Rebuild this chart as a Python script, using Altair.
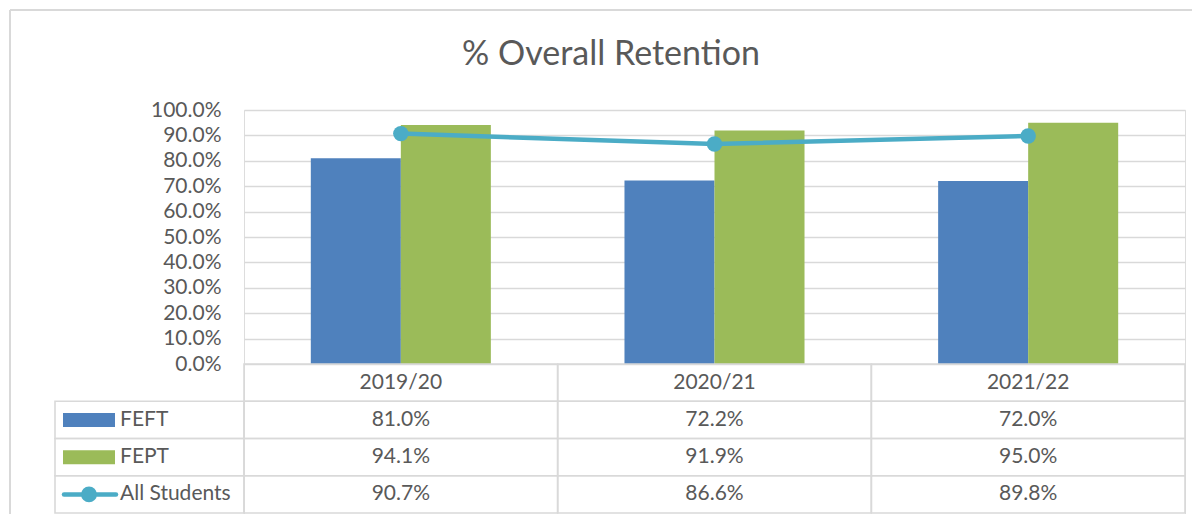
import altair as alt
import pandas as pd

# ---- data ----
years = ["2019/20", "2020/21", "2021/22"]
fe_ft = [81.0, 72.2, 72.0]
fe_pt = [94.1, 91.9, 95.0]
all_students = [90.7, 86.6, 89.8]
series_names = ["FEFT", "FEPT", "All Students"]
series_colors = ["#4F81BD", "#9BBB59", "#4BACC6"]
y_ticks = [0, 10, 20, 30, 40, 50, 60, 70, 80, 90, 100]
table_rows = ["header", "FEFT", "FEPT", "All Students"]
title_text = "% Overall Retention"

TEXT = "#595959"
GRID = "#D9D9D9"
FONT = "Lato"

# ---- tables built from the arrays ----
bars_df = pd.DataFrame(
    [{"year": y, "series": s, "value": v / 100}
     for s, vals in (("FEFT", fe_ft), ("FEPT", fe_pt))
     for y, v in zip(years, vals)]
)
line_df = pd.DataFrame({"year": years, "series": "All Students",
                        "value": [v / 100 for v in all_students]})

cells = []
for y in years:
    cells.append({"row": "header", "year": y, "label": y})
for s, vals in (("FEFT", fe_ft), ("FEPT", fe_pt), ("All Students", all_students)):
    for y, v in zip(years, vals):
        cells.append({"row": s, "year": y, "label": f"{v:.1f}%"})
cells_df = pd.DataFrame(cells)
keys_df = pd.DataFrame({"row": series_names, "series": series_names})
title_df = pd.DataFrame({"title": [title_text]})

color_scale = alt.Scale(domain=series_names, range=series_colors)

# ---- chart part: bars + line ----
x_bar = alt.X("year:N", sort=years,
              scale=alt.Scale(domain=years, paddingInner=0.426, paddingOuter=0.213),
              axis=None)
y_val = alt.Y(
    "value:Q",
    scale=alt.Scale(domain=[0, 1], range=[254, 0], nice=False),
    axis=alt.Axis(values=[t / 100 for t in y_ticks], format=".1%", title=None,
                  domain=False, ticks=False, labelPadding=23,
                  labelFont=FONT, labelFontSize=21, labelColor=TEXT,
                  grid=True, gridColor=GRID, gridWidth=1.5),
)

bars = alt.Chart(bars_df).mark_bar().encode(
    x=x_bar,
    xOffset=alt.XOffset("series:N", sort=["FEFT", "FEPT"],
                        scale=alt.Scale(domain=["FEFT", "FEPT"])),
    y=y_val,
    color=alt.Color("series:N", scale=color_scale, legend=None),
)

line = alt.Chart(line_df).mark_line(
    color=series_colors[2], strokeWidth=4.5,
    point=alt.OverlayMarkDef(filled=True, size=240, color=series_colors[2], opacity=1),
).encode(x=x_bar, y=alt.Y("value:Q"))

plot = alt.layer(bars, line)

# ---- data table below ----
x_tab = alt.X("year:N", sort=years,
              scale=alt.Scale(domain=years, paddingInner=0, paddingOuter=0),
              axis=None)
y_tab = alt.Y("row:N", sort=table_rows,
              scale=alt.Scale(domain=table_rows, range=[254, 403],
                              paddingInner=0, paddingOuter=0),
              axis=None)

cell_rects = alt.Chart(cells_df).mark_rect(
    fillOpacity=0, stroke=GRID, strokeWidth=1.6
).encode(x=x_tab, y=y_tab)

key_rects = alt.Chart(keys_df).mark_rect(
    fillOpacity=0, stroke=GRID, strokeWidth=1.6
).encode(x=alt.value(-189), x2=alt.value(0), y=y_tab)

cell_text = alt.Chart(cells_df).mark_text(
    font=FONT, fontSize=21, color=TEXT, baseline="middle", align="center"
).encode(x=x_tab, y=y_tab, text="label:N")

key_labels = alt.Chart(keys_df).mark_text(
    font=FONT, fontSize=21, color=TEXT, baseline="middle", align="left"
).encode(x=alt.value(-124), y=y_tab, text="row:N")

key_bars = alt.Chart(keys_df).transform_filter(
    alt.FieldOneOfPredicate(field="series", oneOf=["FEFT", "FEPT"])
).mark_rule(strokeWidth=14, strokeCap="butt").encode(
    x=alt.value(-181), x2=alt.value(-129), y=y_tab,
    color=alt.Color("series:N", scale=color_scale, legend=None),
)

key_line = alt.Chart(keys_df).transform_filter(
    alt.FieldEqualPredicate(field="series", equal="All Students")
).mark_rule(strokeWidth=4.5, strokeCap="round").encode(
    x=alt.value(-180), x2=alt.value(-128), y=y_tab,
    color=alt.Color("series:N", scale=color_scale, legend=None),
)

key_dot = alt.Chart(keys_df).transform_filter(
    alt.FieldEqualPredicate(field="series", equal="All Students")
).mark_point(filled=True, size=250, opacity=1, shape="circle").encode(
    x=alt.value(-155), y=y_tab,
    color=alt.Color("series:N", scale=color_scale, legend=None),
)

table = alt.layer(cell_rects, key_rects, cell_text, key_labels,
                  key_bars, key_line, key_dot)

# ---- chart title (placed over the whole frame, as in the reference) ----
title = alt.Chart(title_df).mark_text(
    font=FONT, fontSize=34, color=TEXT, align="center", baseline="alphabetic"
).encode(x=alt.value(367), y=alt.value(-45), text="title:N")

# ---- light frame (document border) ----
frame_df = pd.DataFrame({"k": [0]})
frame_top = alt.Chart(frame_df).mark_rule(color=GRID, strokeWidth=2).encode(
    x=alt.value(-234), x2=alt.value(960), y=alt.value(-100))
frame_left = alt.Chart(frame_df).mark_rule(color=GRID, strokeWidth=2).encode(
    x=alt.value(-234), y=alt.value(-100), y2=alt.value(420))

chart = alt.layer(plot, table, title, frame_top, frame_left).resolve_scale(
    x="independent", y="independent"
).properties(
    width=941,
    height=404,
    padding={"left": 236, "top": 102, "right": 7, "bottom": 0},
    autosize=alt.AutoSizeParams(type="none"),
).configure_view(stroke=None).configure(background="white")

chart.save("out.html", embed_options={"renderer": "svg", "actions": False})
